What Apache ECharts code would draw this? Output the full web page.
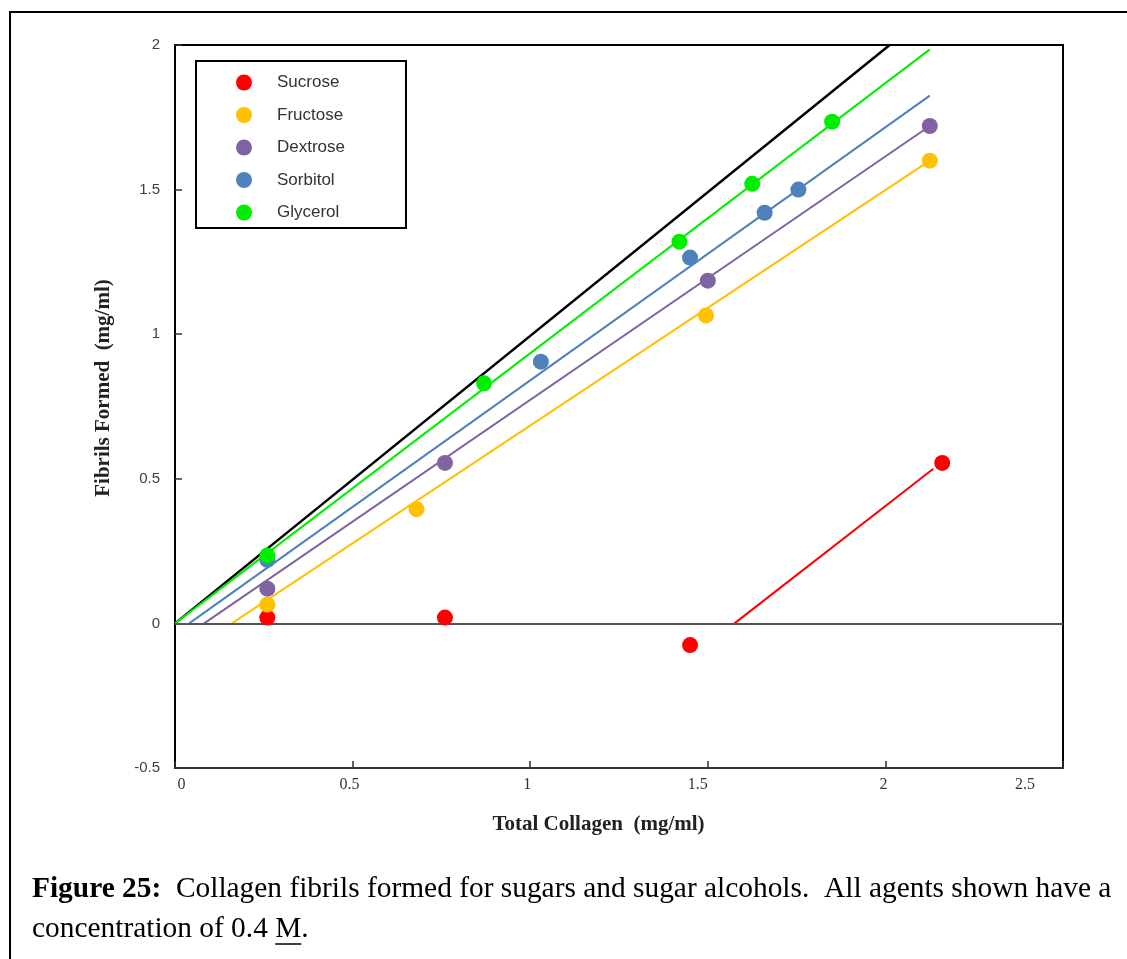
<!DOCTYPE html>
<html>
<head>
<meta charset="utf-8">
<script src="https://cdn.jsdelivr.net/npm/echarts@6/dist/echarts.min.js"></script>
<style>
  html, body { margin: 0; padding: 0; background: #fff; }
  #chart { width: 1127px; height: 959px; }
</style>
</head>
<body>
<div id="chart"></div>
<script>
// ---- data ----
const seriesNames = ['Sucrose', 'Fructose', 'Dextrose', 'Sorbitol', 'Glycerol'];
const seriesColors = ['#FF0000', '#FFC000', '#8064A2', '#4F81BD', '#00EE00'];

const sucrosePts  = [[0.26, 0.02], [0.76, 0.02], [1.45, -0.075], [2.16, 0.555]];
const fructosePts = [[0.26, 0.065], [0.68, 0.395], [1.495, 1.065], [2.125, 1.60]];
const dextrosePts = [[0.26, 0.12], [0.76, 0.555], [1.50, 1.185], [2.125, 1.72]];
const sorbitolPts = [[0.26, 0.22], [1.03, 0.905], [1.45, 1.265], [1.66, 1.42], [1.755, 1.50]];
const glycerolPts = [[0.26, 0.235], [0.87, 0.83], [1.42, 1.32], [1.625, 1.52], [1.85, 1.735]];

// fitted trend lines (end points)
const sucroseFit  = [[1.575, 0], [2.135, 0.535]];
const fructoseFit = [[0.16, 0], [2.125, 1.60]];
const dextroseFit = [[0.082, 0], [2.125, 1.72]];
const sorbitolFit = [[0.04, 0], [2.125, 1.825]];
const glycerolFit = [[0.0, 0], [2.125, 1.985]];
const identityLine = [[0, 0], [2.012, 2.0]];

const xTicks = [0, 0.5, 1, 1.5, 2, 2.5];
const yTicks = [-0.5, 0, 0.5, 1, 1.5, 2];

const pointSets = [sucrosePts, fructosePts, dextrosePts, sorbitolPts, glycerolPts];
const fitSets = [sucroseFit, fructoseFit, dextroseFit, sorbitolFit, glycerolFit];

// ---- chart ----
const chart = echarts.init(document.getElementById('chart'), null, { renderer: 'canvas' });

const series = [];
series.push({
  name: 'identity', type: 'line', data: identityLine, showSymbol: false, symbol: 'none',
  lineStyle: { color: '#000', width: 2.5 }, z: 3, silent: true,
  markLine: {
    silent: true, symbol: 'none', label: { show: false },
    lineStyle: { color: '#555', width: 2, type: 'solid' },
    data: [{ yAxis: 0 }]
  }
});
fitSets.forEach((d, i) => {
  series.push({
    name: seriesNames[i] + ' fit', type: 'line', data: d, symbol: 'none', showSymbol: false,
    lineStyle: { color: seriesColors[i], width: 2 }, z: 4, silent: true
  });
});
pointSets.forEach((d, i) => {
  series.push({
    name: seriesNames[i], type: 'scatter', data: d, symbol: 'circle', symbolSize: 16,
    itemStyle: { color: seriesColors[i], opacity: 1 }, z: 5
  });
});

const xOffsets = { '0': [0, 0, 0, 13], '0.5': [0, 20, 0, 0], '1': [0, 6, 0, 0], '1.5': [0, 4, 0, 0], '2': [0, 6, 0, 0], '2.5': [0, 76, 0, 0] };
const xRich = {};
Object.keys(xOffsets).forEach((k, i) => {
  xRich['t' + i] = { padding: xOffsets[k], fontFamily: 'Liberation Serif', fontSize: 16, color: '#333' };
});

// measure caption to place underline
const capFont = 29.4;
const ctx = document.createElement('canvas').getContext('2d');
ctx.font = capFont + 'px "Liberation Serif"';
const preM = ctx.measureText('concentration of 0.4 ').width;
const mW = ctx.measureText('M').width;
const capX = 32;

chart.setOption({
  animation: false,
  backgroundColor: '#fff',
  grid: { left: 175, right: 64, top: 45, bottom: 191, show: true, borderColor: '#000', borderWidth: 2, backgroundColor: 'transparent' },
  legend: {
    data: seriesNames, orient: 'vertical', left: 231, top: 69,
    itemWidth: 16, itemHeight: 16, itemGap: 15.5, icon: 'circle',
    textStyle: { fontFamily: 'Liberation Sans', fontSize: 17, color: '#333', padding: [0, 0, 5, 20] }
  },
  xAxis: {
    type: 'value', min: 0, max: 2.5, interval: 0.5,
    name: 'Total Collagen  (mg/ml)', nameLocation: 'middle', nameGap: 46,
    nameTextStyle: { fontFamily: 'Liberation Serif', fontWeight: 'bold', fontSize: 21, color: '#222', padding: [0, 41, 0, 0] },
    axisLine: { onZero: false, lineStyle: { color: '#333', width: 2 } },
    axisTick: { inside: true, length: 7, lineStyle: { color: '#333', width: 1.5 } },
    splitLine: { show: false },
    axisLabel: {
      margin: 9, showMaxLabel: true, showMinLabel: true,
      formatter: function (v) {
        const key = String(v);
        const idx = xTicks.indexOf(v);
        return '{t' + (idx < 0 ? 0 : idx) + '|' + key + '}';
      },
      rich: xRich
    }
  },
  yAxis: {
    type: 'value', min: -0.5, max: 2, interval: 0.5,
    name: 'Fibrils Formed  (mg/ml)', nameLocation: 'middle', nameGap: 61, nameRotate: 90,
    nameTextStyle: { fontFamily: 'Liberation Serif', fontWeight: 'bold', fontSize: 21, color: '#222', padding: [0, 0, 0, 37] },
    axisLine: { onZero: false, lineStyle: { color: '#000', width: 2 } },
    axisTick: { inside: true, length: 7, lineStyle: { color: '#333', width: 1.5 } },
    splitLine: { show: false },
    axisLabel: { margin: 15, fontFamily: 'Liberation Sans', fontSize: 15, color: '#404040',
      formatter: function (v) { return String(v); } }
  },
  graphic: [
    { type: 'line', shape: { x1: 9, y1: 12, x2: 1127, y2: 12 }, style: { stroke: '#000', lineWidth: 2 }, silent: true },
    { type: 'line', shape: { x1: 10, y1: 12, x2: 10, y2: 959 }, style: { stroke: '#000', lineWidth: 2 }, silent: true },
    { type: 'rect', shape: { x: 196, y: 61, width: 210, height: 167 }, style: { fill: 'none', stroke: '#000', lineWidth: 2 }, silent: true, z: 10 },
    { type: 'text', left: capX, top: 875, silent: true,
      style: { text: '{b|Figure 25:}{n|  Collagen fibrils formed for sugars and sugar alcohols.  All agents shown have a}',
        rich: {
          b: { fontFamily: 'Liberation Serif', fontWeight: 'bold', fontSize: capFont, fill: '#000' },
          n: { fontFamily: 'Liberation Serif', fontSize: capFont, fill: '#000' }
        } } },
    { type: 'text', left: capX, top: 915, silent: true,
      style: { text: 'concentration of 0.4 M.', fontFamily: 'Liberation Serif', fontSize: capFont, fill: '#000' } },
    { type: 'line', shape: { x1: capX + preM, y1: 944, x2: capX + preM + mW, y2: 944 }, style: { stroke: '#000', lineWidth: 1.5 }, silent: true }
  ],
  series: series
});
</script>
</body>
</html>
